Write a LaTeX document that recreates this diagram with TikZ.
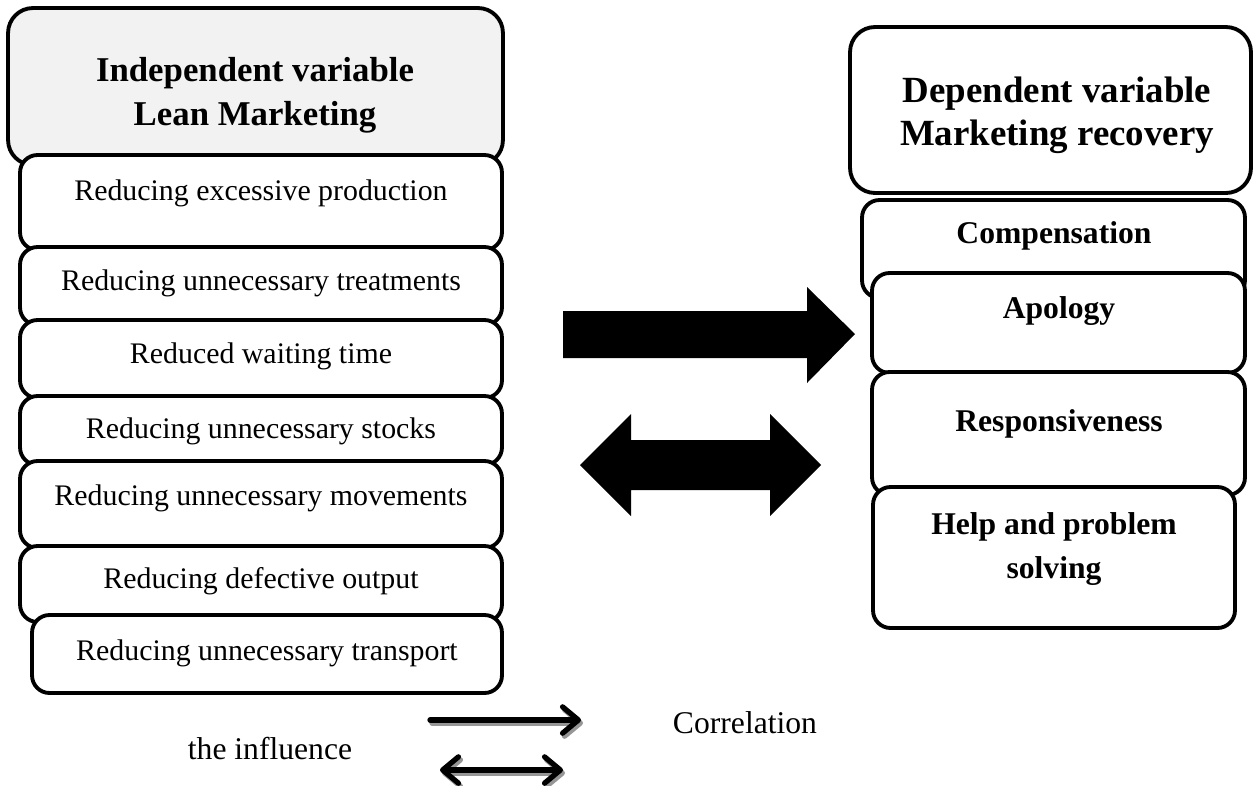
\documentclass[tikz,border=0pt]{standalone}
\usepackage{fontspec}
\setmainfont{Liberation Serif}
\usetikzlibrary{arrows.meta}

\begin{document}
\begin{tikzpicture}[x=0.02cm,y=-0.02cm]
\definecolor{linecolor}{RGB}{0,0,0}
\definecolor{headfill}{RGB}{242,242,242}
\definecolor{boxfill}{RGB}{255,255,255}
\definecolor{shadowcolor}{RGB}{150,150,150}
\tikzset{
  headbox/.style={draw=linecolor,line width=2.2pt,rounded corners=0.5cm,inner sep=0pt},
  itembox/.style={draw=linecolor,fill=boxfill,line width=2.2pt,rounded corners=0.35cm,inner sep=0pt},
  itemtext/.style={anchor=base,inner sep=0pt,font=\fontsize{17}{20}\selectfont},
  boldtext/.style={anchor=base,inner sep=0pt,align=center,font=\bfseries\fontsize{18}{25}\selectfont},
  legendtext/.style={anchor=base,inner sep=0pt,font=\fontsize{18}{21}\selectfont},
  legendline/.style={draw=linecolor,line width=3pt,line cap=round},
  legendshadow/.style={draw=shadowcolor,line width=3pt,line cap=round},
}
\useasboundingbox (0,0) rectangle (1254,785);
% left column
\node [headbox,fill=headfill,minimum width=9.9cm,minimum height=3.14cm] (lhead) at (255.5,86.5) {};
\node [boldtext,font=\bfseries\fontsize{19.8}{24.5}\selectfont] (lheadtext) at (255,125) {Independent variable\\Lean Marketing};
\node [itembox,minimum width=9.64cm,minimum height=1.9cm] (lbox1) at (261,202.5) {};
\node [itemtext] (ltext1) at (261,200) {Reducing excessive production};
\node [itembox,minimum width=9.64cm,minimum height=1.56cm] (lbox2) at (261,286) {};
\node [itemtext] (ltext2) at (261,290) {Reducing unnecessary treatments};
\node [itembox,minimum width=9.64cm,minimum height=1.56cm] (lbox3) at (261,359) {};
\node [itemtext] (ltext3) at (261,363) {Reduced waiting time};
\node [itembox,minimum width=9.64cm,minimum height=1.38cm] (lbox4) at (261,430.5) {};
\node [itemtext] (ltext4) at (261,438) {Reducing unnecessary stocks};
\node [itembox,minimum width=9.64cm,minimum height=1.74cm] (lbox5) at (261,504.5) {};
\node [itemtext] (ltext5) at (261,505) {Reducing unnecessary movements};
\node [itembox,minimum width=9.64cm,minimum height=1.52cm] (lbox6) at (261,584) {};
\node [itemtext] (ltext6) at (261,588) {Reducing defective output};
\node [itembox,minimum width=9.4cm,minimum height=1.56cm] (lbox7) at (267,654) {};
\node [itemtext] (ltext7) at (267,660) {Reducing unnecessary transport};
% right column
\node [headbox,fill=boxfill,minimum width=8.02cm,minimum height=3.32cm] (rhead) at (1050.5,110) {};
\node [boldtext,font=\bfseries\fontsize{21}{24}\selectfont] (rheadtext) at (1057,145) {Dependent variable\\Marketing recovery};
\node [itembox,minimum width=7.66cm,minimum height=1.96cm] (rbox1) at (1053.5,249) {};
\node [boldtext] (rtext1) at (1054,243) {Compensation};
\node [itembox,minimum width=7.46cm,minimum height=2.0cm] (rbox2) at (1058.5,323) {};
\node [boldtext] (rtext2) at (1059,318) {Apology};
\node [itembox,minimum width=7.46cm,minimum height=2.46cm] (rbox3) at (1058.5,433.5) {};
\node [boldtext] (rtext3) at (1059,431) {Responsiveness};
\node [itembox,minimum width=7.24cm,minimum height=2.82cm] (rbox4) at (1054,557.5) {};
\node [boldtext] (rtext4) at (1054,578) {Help and problem\\solving};
% block arrows
\fill [linecolor] (563,311) -- (807,311) -- (807,287) -- (855,334) -- (807,383) -- (807,358) -- (563,358) -- cycle;
\fill [linecolor] (580,465) -- (631,414) -- (631,440) -- (770,440) -- (770,414) -- (821,465)
  -- (770,516) -- (770,490) -- (631,490) -- (631,516) -- cycle;
% legend
\coordinate (infstart) at (430,720);
\coordinate (infend) at (581,720);
\coordinate (corstart) at (440,770);
\coordinate (corend) at (563,770);
\draw [legendshadow,-{Straight Barb[length=9pt,width=15pt,round]}] ([shift={(2,3)}]infstart) -- ([shift={(2,3)}]infend);
\draw [legendline,-{Straight Barb[length=9pt,width=15pt,round]}] (infstart) -- (infend);
\draw [legendshadow,{Straight Barb[length=9pt,width=15pt,round]}-{Straight Barb[length=9pt,width=15pt,round]}] ([shift={(2,3)}]corstart) -- ([shift={(2,3)}]corend);
\draw [legendline,{Straight Barb[length=9pt,width=15pt,round]}-{Straight Barb[length=9pt,width=15pt,round]}] (corstart) -- (corend);
\node [legendtext] (cortext) at (745,733) {Correlation};
\node [legendtext] (inftext) at (270,759) {the influence};
\end{tikzpicture}
\end{document}
